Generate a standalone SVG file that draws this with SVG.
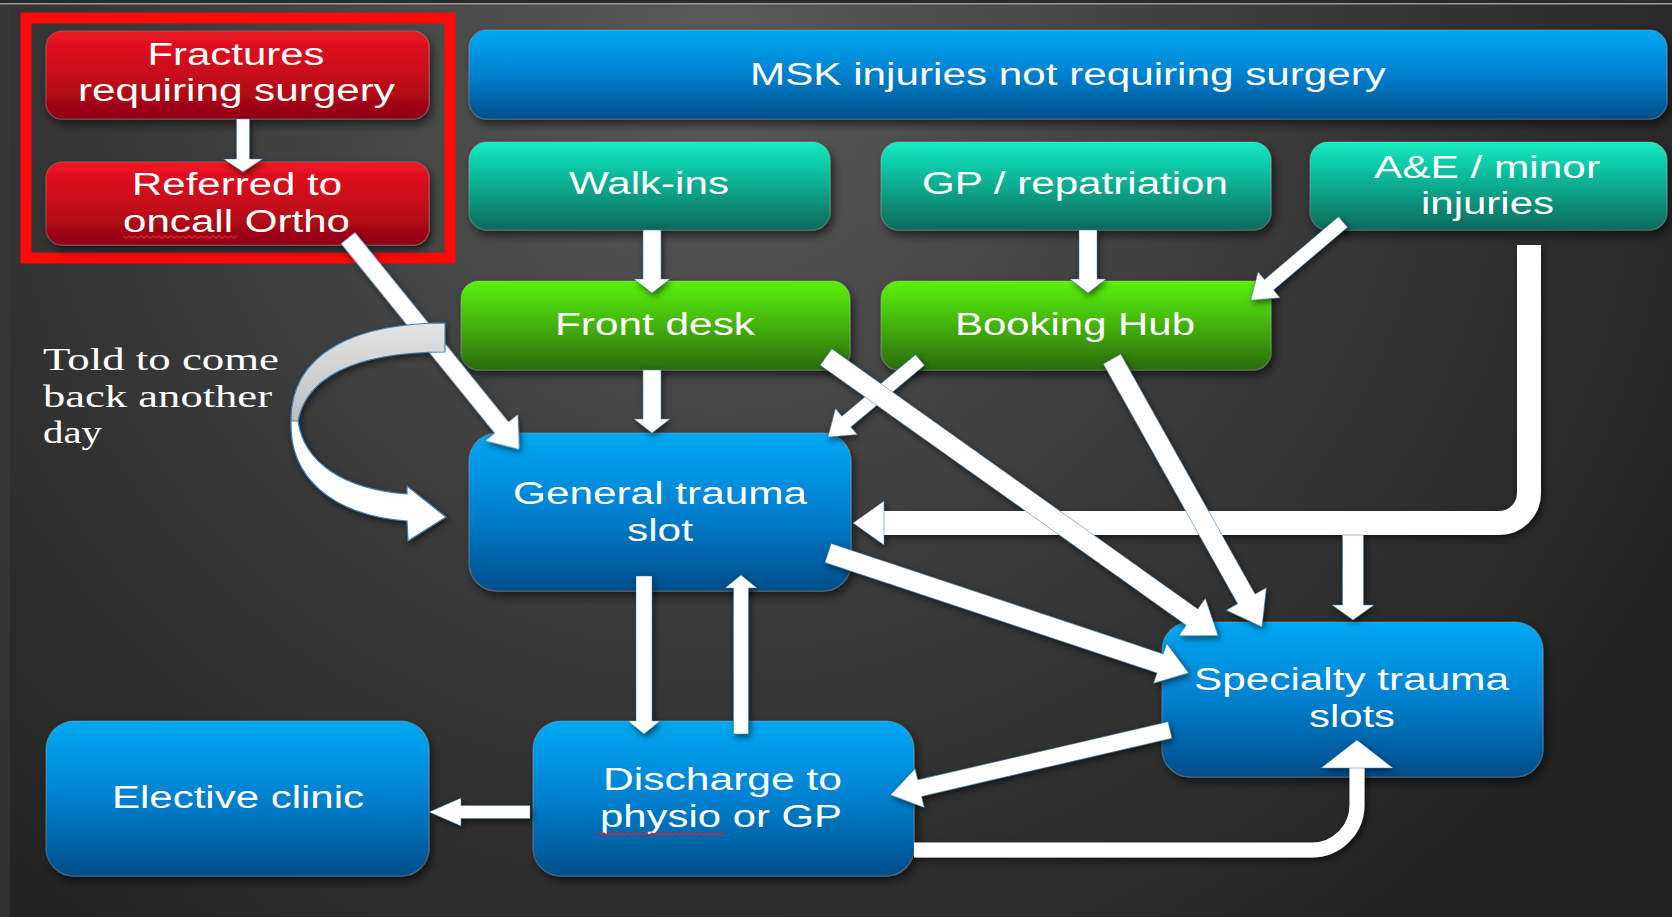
<svg xmlns="http://www.w3.org/2000/svg" width="1672" height="917" viewBox="0 0 1672 917">
<defs>
<radialGradient id="bg" cx="720" cy="60" r="1100" gradientUnits="userSpaceOnUse">
<stop offset="0" stop-color="#5a5a5a"/><stop offset="0.55" stop-color="#383838"/><stop offset="1" stop-color="#222"/>
</radialGradient>
<linearGradient id="gRed" x1="0" y1="0" x2="0" y2="1"><stop offset="0" stop-color="#ec1422"/><stop offset="0.5" stop-color="#c70a1b"/><stop offset="1" stop-color="#8e0412"/></linearGradient>
<linearGradient id="gBlue" x1="0" y1="0" x2="0" y2="1"><stop offset="0" stop-color="#06a8f4"/><stop offset="0.5" stop-color="#0580cf"/><stop offset="1" stop-color="#034e8a"/></linearGradient>
<linearGradient id="gTeal" x1="0" y1="0" x2="0" y2="1"><stop offset="0" stop-color="#14ebc2"/><stop offset="0.5" stop-color="#0cab8f"/><stop offset="1" stop-color="#07685a"/></linearGradient>
<linearGradient id="gGreen" x1="0" y1="0" x2="0" y2="1"><stop offset="0" stop-color="#5af206"/><stop offset="0.5" stop-color="#43b20a"/><stop offset="1" stop-color="#2a6a12"/></linearGradient>
<linearGradient id="gGray" x1="0" y1="0" x2="0" y2="1"><stop offset="0" stop-color="#e4e4e4"/><stop offset="1" stop-color="#bdbdbd"/></linearGradient>
<filter id="sh" x="-10%" y="-10%" width="125%" height="135%"><feDropShadow dx="3" dy="5" stdDeviation="5" flood-color="#000" flood-opacity="0.6"/></filter>
<filter id="ash" x="-10%" y="-10%" width="130%" height="130%"><feDropShadow dx="2" dy="3" stdDeviation="3" flood-color="#000" flood-opacity="0.55"/></filter>
<style>
.box{filter:url(#sh);stroke:rgba(255,255,255,0.18);stroke-width:1.2}
.red{fill:url(#gRed)}
.blue{fill:url(#gBlue)}
.teal{fill:url(#gTeal)}
.green{fill:url(#gGreen)}
.t{font-family:"Liberation Sans",Arial,sans-serif;font-size:31px;fill:#fff;text-anchor:middle}
.s{font-family:"Liberation Serif","Times New Roman",serif;font-size:32px;fill:#fff}
.arr{fill:#fff;stroke:#2f6f9f;stroke-width:0.8;stroke-opacity:0.6}
.ln{fill:none;stroke:#fff}
.sq{fill:none;stroke:#e0202a;stroke-width:1.4}
</style>
</defs>
<rect x="0" y="0" width="1672" height="917" fill="url(#bg)"/>
<rect x="0" y="0" width="10" height="917" fill="#3a3a3a" opacity="0.6"/>
<rect x="0" y="0" width="1672" height="3" fill="#2a2a2a"/>
<rect x="0" y="3" width="1672" height="1.5" fill="#9a9a9a"/>

<g id="red-frame"><rect x="26" y="18" width="424" height="240" fill="none" stroke="#ff0a0a" stroke-width="11"/></g>

<g id="n-fractures"><rect class="box red" x="46" y="31" width="383" height="88" rx="16"/>
<text class="t" x="236" y="65" textLength="177" lengthAdjust="spacingAndGlyphs">Fractures</text>
<text class="t" x="236.5" y="101" textLength="317" lengthAdjust="spacingAndGlyphs">requiring surgery</text></g>

<g id="n-referred"><rect class="box red" x="46" y="162" width="383" height="83" rx="16"/>
<text class="t" x="237" y="195" textLength="210" lengthAdjust="spacingAndGlyphs">Referred to</text>
<text class="t" x="236.5" y="232" textLength="227" lengthAdjust="spacingAndGlyphs">oncall Ortho</text>
<path class="sq" d="M123,236 l3,2 l3,-2 l3,2 l3,-2 l3,2 l3,-2 l3,2 l3,-2 l3,2 l3,-2 l3,2 l3,-2 l3,2 l3,-2 l3,2 l3,-2 l3,2 l3,-2 l3,2 l3,-2 l3,2 l3,-2 l3,2 l3,-2 l3,2 l3,-2 l3,2 l3,-2 l3,2 l3,-2 l3,2 l3,-2 l3,2 l3,-2 l3,2 l3,-2 l3,2 l3,-2"/></g>

<g id="n-msk"><rect class="box blue" x="469" y="30" width="1198" height="89" rx="18"/>
<text class="t" x="1068" y="85" textLength="636" lengthAdjust="spacingAndGlyphs">MSK injuries not requiring surgery</text></g>

<g id="n-walkins"><rect class="box teal" x="469" y="142" width="361" height="88" rx="18"/>
<text class="t" x="649" y="194" textLength="160" lengthAdjust="spacingAndGlyphs">Walk-ins</text></g>

<g id="n-gp"><rect class="box teal" x="881" y="142" width="390" height="88" rx="18"/>
<text class="t" x="1075" y="194" textLength="306" lengthAdjust="spacingAndGlyphs">GP / repatriation</text></g>

<g id="n-ae"><rect class="box teal" x="1310" y="142" width="357" height="88" rx="18"/>
<text class="t" x="1487" y="178" textLength="226" lengthAdjust="spacingAndGlyphs">A&amp;E / minor</text>
<text class="t" x="1487.5" y="214" textLength="133" lengthAdjust="spacingAndGlyphs">injuries</text></g>

<g id="n-frontdesk"><rect class="box green" x="461" y="281" width="389" height="89" rx="18"/>
<text class="t" x="655" y="335" textLength="200" lengthAdjust="spacingAndGlyphs">Front desk</text></g>

<g id="n-booking"><rect class="box green" x="881" y="281" width="390" height="89" rx="18"/>
<text class="t" x="1075" y="335" textLength="240" lengthAdjust="spacingAndGlyphs">Booking Hub</text></g>

<g id="n-general"><rect class="box blue" x="469" y="433" width="382" height="158" rx="28"/>
<text class="t" x="660" y="504" textLength="294" lengthAdjust="spacingAndGlyphs">General trauma</text>
<text class="t" x="660" y="541" textLength="66" lengthAdjust="spacingAndGlyphs">slot</text></g>

<g id="n-specialty"><rect class="box blue" x="1162" y="622" width="381" height="155" rx="28"/>
<text class="t" x="1351.5" y="690" textLength="315" lengthAdjust="spacingAndGlyphs">Specialty trauma</text>
<text class="t" x="1352" y="727" textLength="86" lengthAdjust="spacingAndGlyphs">slots</text></g>

<g id="n-discharge"><rect class="box blue" x="533" y="721" width="381" height="155" rx="28"/>
<text class="t" x="722.5" y="790" textLength="239" lengthAdjust="spacingAndGlyphs">Discharge to</text>
<text class="t" x="721" y="827" textLength="242" lengthAdjust="spacingAndGlyphs">physio or GP</text>
<path class="sq" d="M598,833 l3,2 l3,-2 l3,2 l3,-2 l3,2 l3,-2 l3,2 l3,-2 l3,2 l3,-2 l3,2 l3,-2 l3,2 l3,-2 l3,2 l3,-2 l3,2 l3,-2 l3,2 l3,-2 l3,2 l3,-2 l3,2 l3,-2 l3,2 l3,-2 l3,2 l3,-2 l3,2 l3,-2 l3,2 l3,-2 l3,2 l3,-2 l3,2 l3,-2 l3,2 l3,-2 l3,2 l3,-2 l3,2 l3,-2"/></g>

<g id="n-elective"><rect class="box blue" x="46" y="721" width="383" height="155" rx="28"/>
<text class="t" x="238" y="808" textLength="252" lengthAdjust="spacingAndGlyphs">Elective clinic</text></g>

<g id="note">
<text class="s" x="43" y="370" textLength="236" lengthAdjust="spacingAndGlyphs">Told to come</text>
<text class="s" x="43" y="407" textLength="229" lengthAdjust="spacingAndGlyphs">back another</text>
<text class="s" x="43" y="443" textLength="59" lengthAdjust="spacingAndGlyphs">day</text>
</g>

<g id="connectors" filter="url(#ash)">
<polygon class="arr" points="236.5,119 249.5,119 249.5,159 262.5,159 243,172 223.5,159 236.5,159"/>
<polygon class="arr" transform="translate(348,238) rotate(50.98)" points="0,-9 244,-9 244,-21 272,0 244,21 244,9 0,9"/>
<polygon class="arr" points="643,230 661,230 661,279 670,279 652,293 634,279 643,279"/>
<polygon class="arr" points="1079,230 1097,230 1097,279 1106,279 1088,293 1070,279 1079,279"/>
<polygon class="arr" transform="translate(1343,222) rotate(139.7)" points="0,-7 97,-7 97,-17 121,0 97,17 97,7 0,7"/>
<path class="ln" stroke-width="24" d="M1529,245 V493 A30,30 0 0 1 1499,523 H880"/>
<polygon class="arr" points="884,501 853,523 884,545"/>
<polygon class="arr" points="1342.5,535 1363.5,535 1363.5,605 1374,605 1353,620 1332,605 1342.5,605"/>
<polygon class="arr" points="643,370 661,370 661,419 670,419 652,433 634,419 643,419"/>
<polygon class="arr" transform="translate(920,360) rotate(140.1)" points="0,-7 96,-7 96,-17 120,0 96,17 96,7 0,7"/>
<polygon class="arr" transform="translate(826,357) rotate(35.4)" points="0,-10 449,-10 449,-23 481,0 449,23 449,10 0,10"/>
<polygon class="arr" transform="translate(1112,359) rotate(60.76)" points="0,-10 275,-10 275,-23 307,0 275,23 275,10 0,10"/>
<polygon class="arr" transform="translate(828,553) rotate(18.39)" points="0,-10 350,-10 350,-21 380,0 350,21 350,10 0,10"/>
<polygon class="arr" points="636,576 652,576 652,721 660,721 644,734 628,721 636,721"/>
<polygon class="arr" points="733.5,734 748.5,734 748.5,588 757,588 741,575 725,588 733.5,588"/>
<polygon class="arr" transform="translate(1170,730) rotate(166.93)" points="0,-8.5 257,-8.5 257,-20 287,0 257,20 257,8.5 0,8.5"/>
<polygon class="arr" points="530,805.5 530,818.5 461,818.5 461,826 429,812 461,798 461,805.5"/>
<path class="ln" stroke-width="15" d="M914,850 H1312 A45,45 0 0 0 1357,805 V765"/>
<polygon class="arr" points="1321,768 1357,740 1393,768"/>
<path fill="url(#gGray)" stroke="#3d7fb5" stroke-width="1.2" d="M445,323 C360,323 290,350 291,422 L298,422 C305,380 350,352 445,352 Z"/>
<path fill="#fff" stroke="#3d7fb5" stroke-width="1.2" d="M298,421 C304,462 342,489 407,494 L407,486 L446,517 L408,541 L407,521 C330,515 289,476 291,421 Z"/>
</g>
</svg>
